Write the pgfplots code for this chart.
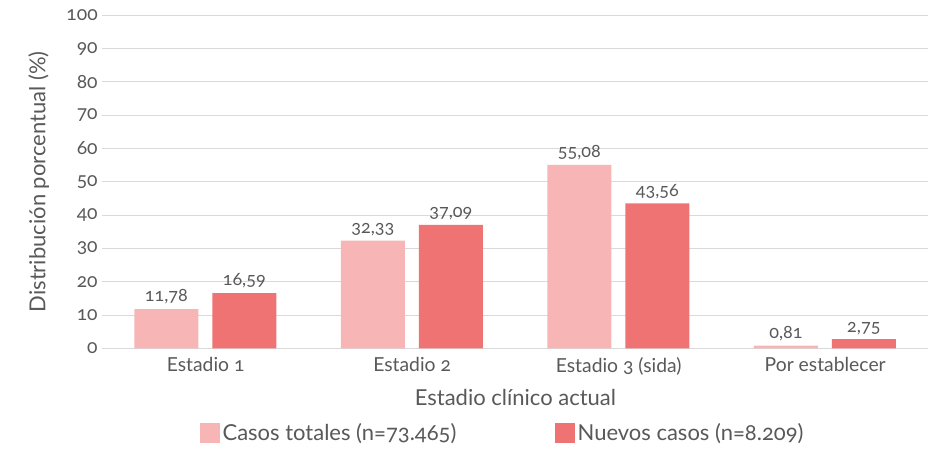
\documentclass[border=0pt]{standalone}
\usepackage{fontspec}
\setmainfont{Lato}[Numbers=OldStyle]
\usepackage{pgfplots}
\pgfplotsset{compat=1.18}
\definecolor{lightbar}{HTML}{F7B5B5}
\definecolor{darkbar}{HTML}{F07373}
\definecolor{txt}{HTML}{595959}
\definecolor{gridc}{HTML}{D9D9D9}
\begin{document}
\begin{tikzpicture}
\begin{axis}[
  scale only axis,
  width=620pt, height=250pt,
  ybar, bar width=48pt,
  xmin=-0.5, xmax=3.5, ymin=0, ymax=100,
  ytick={0,10,...,100},
  xtick={0,1,2,3},
  xticklabels={Estadio 1, Estadio 2, Estadio 3 (sida), Por establecer},
  /pgf/number format/assume math mode=true,
  ticklabel style={font=\fontsize{14.5}{16}\selectfont, text=txt},
  xticklabel style={yshift=-3pt},
  major tick length=0pt,
  axis x line*=bottom, axis y line*=left,
  x axis line style={gridc, line width=0.8pt},
  y axis line style={draw=none},
  ymajorgrids, grid style={gridc, line width=0.8pt},
  xlabel={Estadio clínico actual},
  ylabel={Distribución porcentual (\%)},
  xlabel style={font=\fontsize{16.5}{18}\selectfont, text=txt, yshift=-4pt},
  ylabel style={font=\fontsize{16.5}{18}\selectfont, text=txt, yshift=6pt},
  nodes near coords,
  nodes near coords style={font=\fontsize{13.5}{15}\selectfont, text=txt},
  point meta=explicit symbolic,
  legend style={at={(0.485,-0.255)}, anchor=center, legend columns=2, draw=none,
    font=\fontsize{16.5}{18}\selectfont, text=txt,
    /tikz/every even column/.append style={column sep=72pt}},
  legend image code/.code={\fill[#1] (0pt,-7.5pt) rectangle (15pt,7.5pt);},
]
\addplot[fill=lightbar, draw=none, bar shift=-29.5pt] coordinates
  {(0,11.78)[11,78] (1,32.33)[32,33] (2,55.08)[55,08] (3,0.81)[0,81]};
\addlegendentry{Casos totales (n=73.465)}
\addplot[fill=darkbar, draw=none, bar shift=29pt] coordinates
  {(0,16.59)[16,59] (1,37.09)[37,09] (2,43.56)[43,56] (3,2.75)[2,75]};
\addlegendentry{Nuevos casos (n=8.209)}
\end{axis}
\path (current bounding box.west) ++(-18pt,0);
\path (current bounding box.north) ++(0,4pt);
\end{tikzpicture}
\end{document}
